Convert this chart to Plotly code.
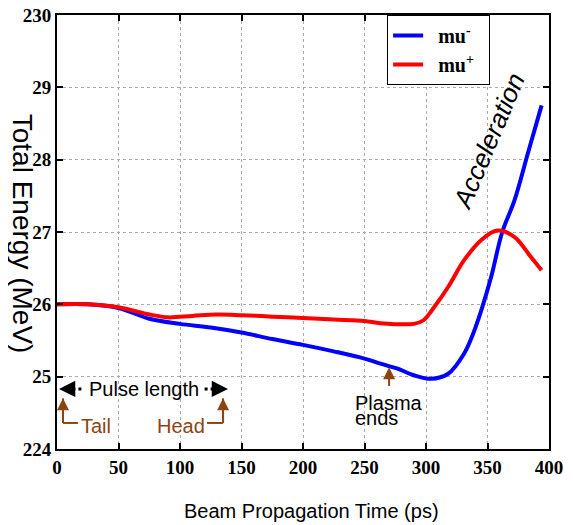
import plotly.graph_objects as go

# ---- data ----
t_minus = [0, 25, 50, 75, 100, 125, 150, 175, 200, 225, 250, 263, 277, 290, 304, 318, 331, 338, 345, 353, 362, 372, 383, 394]
e_minus = [26.0, 26.0, 25.95, 25.80, 25.73, 25.68, 25.61, 25.52, 25.44, 25.35, 25.25, 25.18, 25.11, 25.02, 24.97, 25.04, 25.32, 25.58, 25.92, 26.38, 27.0, 27.44, 28.1, 28.75]
t_plus = [0, 25, 50, 75, 90, 110, 130, 150, 175, 200, 225, 250, 263, 290, 298, 307, 318, 331, 345, 358, 372, 385, 394]
e_plus = [26.0, 26.0, 25.96, 25.86, 25.82, 25.84, 25.86, 25.85, 25.83, 25.81, 25.79, 25.77, 25.74, 25.73, 25.78, 25.97, 26.24, 26.61, 26.89, 27.02, 26.93, 26.66, 26.47]

x_ticks = [0, 50, 100, 150, 200, 250, 300, 350, 400]
y_ticks = [24, 25, 26, 27, 28, 29, 30]
y_tick_text = ["224", "25", "26", "27", "28", "29", "230"]

BROWN = "#8B4513"
SANS = "Liberation Sans, Arial, sans-serif"
SERIF = "Liberation Serif, Times New Roman, serif"
NB = "\u00a0"

fig = go.Figure()
fig.add_trace(go.Scatter(x=t_minus, y=e_minus, mode="lines", name=NB * 2 + "mu<sup>-</sup>" + NB * 2,
                         line=dict(color="#0000FF", width=4, shape="spline")))
fig.add_trace(go.Scatter(x=t_plus, y=e_plus, mode="lines", name=NB * 2 + "mu<sup>+</sup>" + NB * 2,
                         line=dict(color="#FF0000", width=4, shape="spline")))

axis_common = dict(showline=True, linecolor="black", linewidth=2, mirror="allticks",
                   ticks="inside", ticklen=6, tickwidth=1.5, tickcolor="black",
                   showgrid=True, gridcolor="#aaaaaa", griddash="dot", gridwidth=1,
                   zeroline=False, automargin=False, ticklabeloverflow="allow",
                   tickfont=dict(family=SERIF, size=19, color="black", weight="bold"))

fig.update_xaxes(range=[0, 400], tickvals=x_ticks, **axis_common)
fig.update_yaxes(range=[24, 30], tickvals=y_ticks, ticktext=y_tick_text, **axis_common)

ann = []
# axis titles
ann.append(dict(text="Beam Propagation Time (ps)", xref="paper", yref="paper", x=0.517, y=-0.142,
                showarrow=False, font=dict(family=SANS, size=20, color="black"),
                xanchor="center", yanchor="middle"))
ann.append(dict(text="Total Energy (MeV)", xref="paper", yref="paper", x=-0.07, y=0.497,
                showarrow=False, textangle=90, font=dict(family=SANS, size=28, color="black"),
                xanchor="center", yanchor="middle"))
# Acceleration
ann.append(dict(text="<i>Acceleration</i>", x=351, y=28.26, showarrow=False, textangle=-67,
                font=dict(family=SANS, size=26, color="black")))
# Pulse length
ann.append(dict(text="Pulse length", x=71, y=24.83, showarrow=False,
                font=dict(family=SANS, size=20, color="black")))
ann.append(dict(text="", x=1.6, y=24.83, ax=11, ay=24.83, axref="x", ayref="y",
                showarrow=True, arrowhead=2, arrowsize=1.3, arrowwidth=2.5, arrowcolor="black"))
ann.append(dict(text="", x=139, y=24.83, ax=130, ay=24.83, axref="x", ayref="y",
                showarrow=True, arrowhead=2, arrowsize=1.3, arrowwidth=2.5, arrowcolor="black"))
# Tail / Head
ann.append(dict(text="Tail", x=17.5, y=24.32, showarrow=False, xanchor="left",
                font=dict(family=SANS, size=20, color=BROWN)))
ann.append(dict(text="", x=4.9, y=24.70, ax=4.9, ay=24.36, axref="x", ayref="y",
                showarrow=True, arrowhead=2, arrowsize=1.2, arrowwidth=2, arrowcolor=BROWN))
ann.append(dict(text="Head", x=122, y=24.32, showarrow=False, xanchor="right",
                font=dict(family=SANS, size=20, color=BROWN)))
ann.append(dict(text="", x=135, y=24.70, ax=135, ay=24.36, axref="x", ayref="y",
                showarrow=True, arrowhead=2, arrowsize=1.2, arrowwidth=2, arrowcolor=BROWN))
# Plasma ends
ann.append(dict(text="", x=270, y=25.13, ax=270, ay=24.85, axref="x", ayref="y",
                showarrow=True, arrowhead=2, arrowsize=1.2, arrowwidth=2, arrowcolor=BROWN))
ann.append(dict(text="Plasma", x=241, y=24.64, showarrow=False, xanchor="left",
                font=dict(family=SANS, size=20, color="black")))
ann.append(dict(text="ends", x=241, y=24.43, showarrow=False, xanchor="left",
                font=dict(family=SANS, size=20, color="black")))

shapes = [
    dict(type="line", x0=12.5, x1=21, y0=24.83, y1=24.83, line=dict(color="black", width=3, dash="dot")),
    dict(type="line", x0=120, x1=129, y0=24.83, y1=24.83, line=dict(color="black", width=3, dash="dot")),
    dict(type="line", x0=4.9, x1=4.9, y0=24.36, y1=24.70, line=dict(color=BROWN, width=2)),
    dict(type="line", x0=4.9, x1=17, y0=24.36, y1=24.36, line=dict(color=BROWN, width=2)),
    dict(type="line", x0=135, x1=135, y0=24.36, y1=24.70, line=dict(color=BROWN, width=2)),
    dict(type="line", x0=122, x1=135, y0=24.36, y1=24.36, line=dict(color=BROWN, width=2)),
]

fig.update_layout(
    width=565, height=517,
    margin=dict(l=49, r=24, t=7, b=76),
    plot_bgcolor="white", paper_bgcolor="white",
    annotations=ann, shapes=shapes,
    legend=dict(x=0.671, y=1.0, xanchor="left", yanchor="top",
                bordercolor="black", borderwidth=1, bgcolor="white",
                font=dict(family=SERIF, size=20, color="black", weight="bold")),
)

fig.write_html("out.html")
